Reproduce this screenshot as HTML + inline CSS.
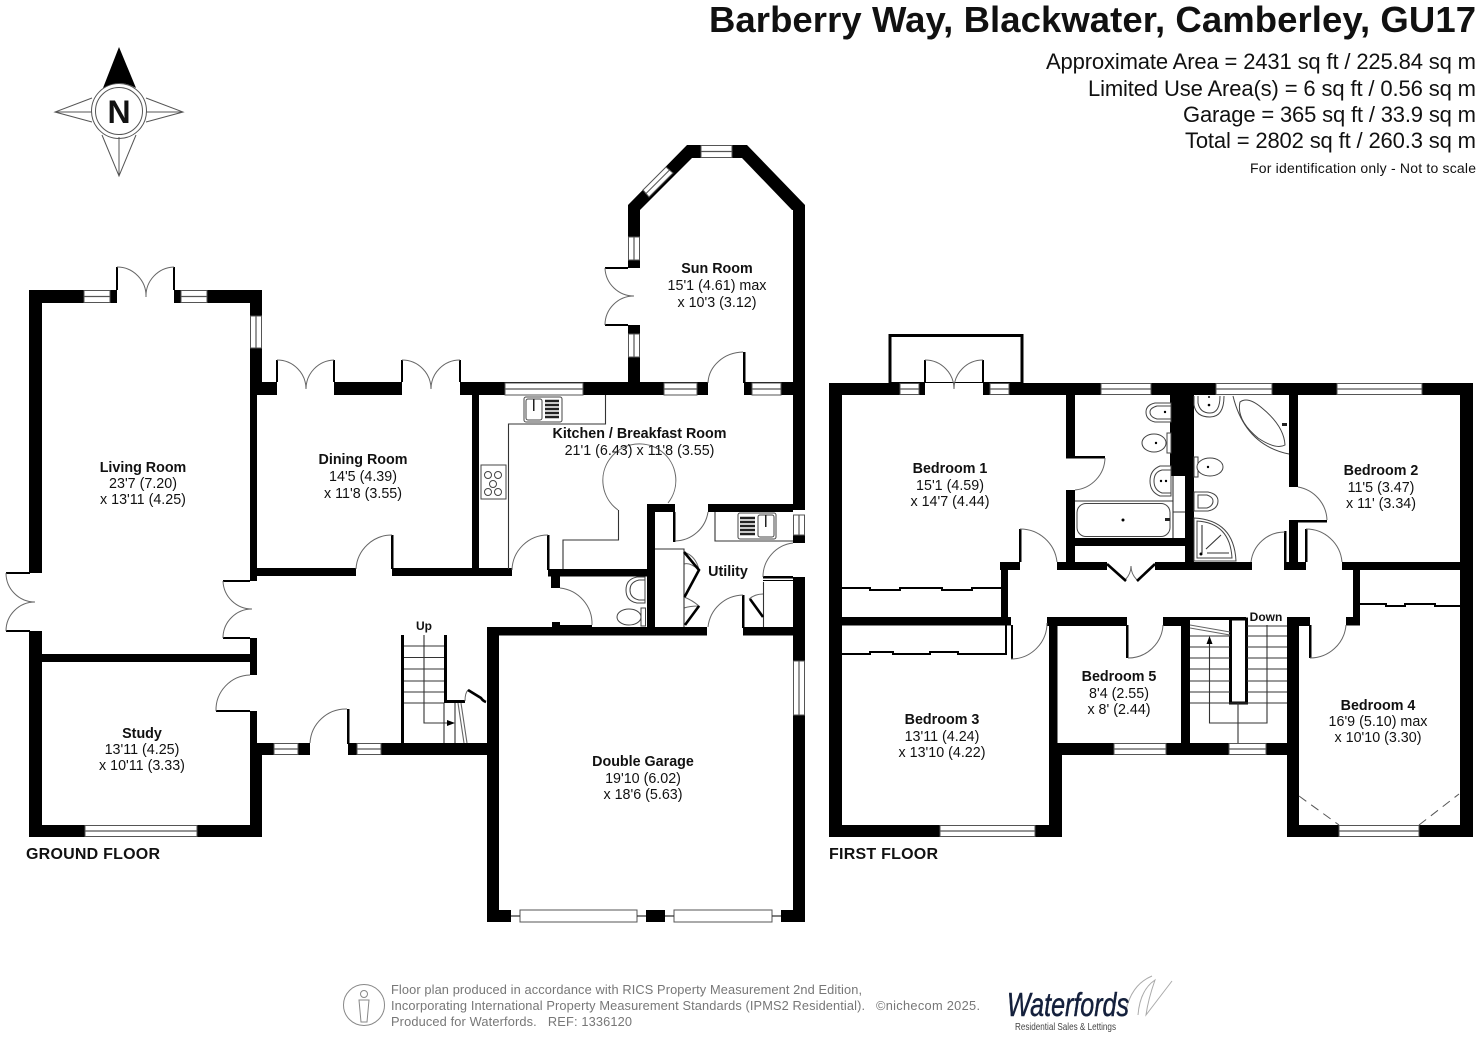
<!DOCTYPE html>
<html><head><meta charset="utf-8"><title>Barberry Way floor plan</title>
<style>
html,body{margin:0;padding:0;background:#fff;width:1480px;height:1056px;overflow:hidden}
svg{display:block}
text{font-family:"Liberation Sans",sans-serif;fill:#111}
.b{font-weight:bold}
.w rect{fill:#fff;stroke:#555;stroke-width:1}
.w path{stroke:#555;stroke-width:1.2;fill:none}
.a{fill:none;stroke:#666;stroke-width:1}
.l{fill:none;stroke:#333;stroke-width:1.1}
.t{fill:none;stroke:#000;stroke-width:2}
.k{fill:none;stroke:#000;stroke-width:2.6}
.f{fill:#fff;stroke:#444;stroke-width:1}
</style></head><body>
<svg width="1480" height="1056" viewBox="0 0 1480 1056" xmlns="http://www.w3.org/2000/svg">
<rect width="1480" height="1056" fill="#fff"/>

<!-- header -->
<text x="1476" y="32" text-anchor="end" class="b" font-size="36.5" textLength="767">Barberry Way, Blackwater, Camberley, GU17</text>
<g font-size="22" text-anchor="end">
<text x="1476" y="69" textLength="430">Approximate Area = 2431 sq ft / 225.84 sq m</text>
<text x="1476" y="96" textLength="388">Limited Use Area(s) = 6 sq ft / 0.56 sq m</text>
<text x="1476" y="122" textLength="293">Garage = 365 sq ft / 33.9 sq m</text>
<text x="1476" y="148" textLength="291">Total = 2802 sq ft / 260.3 sq m</text>
</g>
<text x="1476" y="173" text-anchor="end" font-size="14" textLength="226">For identification only - Not to scale</text>

<!-- compass -->
<g fill="none" stroke="#555" stroke-width="1">
<path d="M92 98L55 112L92 122M55 112H92M146 98L183 112L146 122M146 112H183M102 135L119 176L136 135M119 176V137"/>
<circle cx="119" cy="111" r="27.5"/><circle cx="119" cy="111" r="23.5"/>
</g>
<path d="M119 47L103 88Q119 78 136 88Z" fill="#000"/>
<text x="119" y="123" text-anchor="middle" class="b" font-size="32">N</text>

<!-- GROUND FLOOR walls -->
<g fill="#000">
<rect x="29" y="290" width="88" height="13"/><rect x="174" y="290" width="88" height="13"/>
<rect x="29" y="290" width="13" height="283"/><rect x="29" y="631" width="13" height="206"/>
<rect x="250" y="290" width="12" height="92"/><rect x="250" y="382" width="7" height="199"/>
<rect x="250" y="382" width="27" height="13"/>
<rect x="334" y="382" width="68" height="13"/>
<rect x="460" y="382" width="204" height="13"/>
<rect x="42" y="654" width="208" height="8"/>
<rect x="250" y="638" width="7" height="37"/>
<rect x="250" y="711" width="7" height="32"/>
<rect x="250" y="743" width="12" height="94"/>
<rect x="29" y="825" width="233" height="12"/>
<rect x="472" y="395" width="7" height="174"/>
<rect x="257" y="568" width="99" height="8"/>
<rect x="392" y="568" width="120" height="8"/>
<rect x="257" y="743" width="53" height="12"/>
<rect x="348" y="743" width="139" height="12"/>
<rect x="347" y="709" width="2.5" height="35"/>
<rect x="391" y="535" width="2.5" height="34"/>
<rect x="401" y="635" width="3" height="108"/>
<rect x="444" y="635" width="3" height="66"/>
<rect x="444" y="700" width="21" height="3"/>
<rect x="628" y="205" width="12" height="63"/>
<rect x="628" y="325" width="12" height="58"/>
<rect x="628" y="382" width="80" height="13"/>
<rect x="744" y="382" width="61" height="13"/>
<rect x="743" y="352" width="2.5" height="31"/>
<rect x="793" y="205" width="12" height="305"/>
<rect x="793" y="535" width="12" height="8"/>
<rect x="793" y="577" width="12" height="345"/>
<path d="M628 205L687 145H747L805 205V210H792L742 158H692L640 210Z"/>
<rect x="708" y="504" width="85" height="8"/>
<rect x="647" y="504" width="28" height="8"/>
<rect x="647" y="504" width="8" height="131"/>
<rect x="547" y="535" width="2.5" height="35"/>
<rect x="548" y="569" width="100" height="7.5"/>
<rect x="551" y="575" width="9" height="13"/>
<rect x="673" y="512" width="2.5" height="30"/>
<rect x="552" y="625" width="40" height="2"/>
<rect x="552" y="622" width="8" height="5"/>
<rect x="742" y="595" width="2.5" height="33"/>
<rect x="763" y="576" width="30" height="2.5"/>
<rect x="763" y="580" width="30" height="1"/>
<rect x="487" y="627" width="220" height="8.5"/>
<rect x="743" y="627" width="62" height="8.5"/>
<rect x="487" y="627" width="12" height="295"/>
<rect x="487" y="910" width="24" height="12"/>
<rect x="646" y="910" width="19" height="12"/>
<rect x="781" y="910" width="24" height="12"/>
</g>

<!-- windows ground -->
<g class="w">
<rect x="84" y="290.5" width="26" height="12"/><path d="M84 296.5H110"/>
<rect x="181" y="290.5" width="26" height="12"/><path d="M181 296.5H207"/>
<rect x="250.5" y="316" width="11" height="32"/><path d="M256 316V348"/>
<rect x="85" y="825.5" width="112" height="11"/><path d="M85 831H197"/>
<rect x="274" y="743.5" width="24" height="11"/><path d="M274 749H298"/>
<rect x="357" y="743.5" width="24" height="11"/><path d="M357 749H381"/>
<rect x="505" y="383" width="78" height="12"/><path d="M505 389H583"/>
<rect x="664" y="383" width="33" height="12"/><path d="M664 389H697"/>
<rect x="752" y="383" width="29" height="12"/><path d="M752 389H781"/>
<rect x="701" y="145.5" width="31" height="12"/><path d="M701 151.5H732"/>
<rect x="628.5" y="237" width="11" height="23"/><path d="M634 237V260"/>
<rect x="628.5" y="334" width="11" height="23"/><path d="M634 334V357"/>
<rect x="793.5" y="515" width="11" height="20"/><path d="M799 515V535"/>
<rect x="793.5" y="661" width="11" height="54"/><path d="M799 661V715"/>
<rect x="520" y="910" width="117" height="12"/>
<rect x="674" y="910" width="98" height="12"/>
</g>
<path d="M643 190L666 167L673 173L649 197Z" fill="#fff" stroke="#555"/>
<path d="M646 193.5L669.5 170" stroke="#555" fill="none"/>
<path d="M511 916H520M637 916H646M665 916H674M772 916H781" stroke="#333" stroke-width="1.2"/>

<!-- doors ground -->
<g class="t">
<path d="M117 290V267M174 290V267M277 382V360M334 382V360M402 382V360M460 382V360"/>
<path d="M6 573H30M6 631H30M223 581H250M223 638H250M216 711H250M605 268H628M605 325H628"/>
</g>
<g class="a">
<path d="M117 267A29 29 0 0 1 146 297A29 29 0 0 1 174 267"/>
<path d="M277 360A29 29 0 0 1 306 389A29 29 0 0 1 334 360"/>
<path d="M402 360A29 29 0 0 1 431 389A29 29 0 0 1 460 360"/>
<path d="M6 573A29 29 0 0 0 35 602A29 29 0 0 0 6 631"/>
<path d="M223 581A29 29 0 0 0 252 609A29 29 0 0 0 223 638"/>
<path d="M216 711A35 35 0 0 1 250 675"/>
<path d="M605 268A29 29 0 0 0 634 296A29 29 0 0 0 605 325"/>
<path d="M356 569A36 36 0 0 1 392 535"/>
<path d="M310 743A36 36 0 0 1 347 709"/>
<path d="M512 570A36 36 0 0 1 548 535"/>
<path d="M560 588A36 36 0 0 1 592 625"/>
<path d="M708 627A36 36 0 0 1 743 595"/>
<path d="M708 383A36 32 0 0 1 743 352"/>
<path d="M763 577A34 34 0 0 1 793 543"/>
<path d="M675 541A34 34 0 0 0 708 512"/>
<path d="M618 510A36.5 36.5 0 1 1 668 503"/>
<path d="M749 599Q755 594 763 594"/>
<path d="M465 701Q465 693 468 690"/>
<path d="M684 552Q696 556 699 570Q690 562 684 564M684 597Q692 600 699 606Q690 606 684 608"/>
</g>

<!-- kitchen lines -->
<g class="l">
<path d="M605.5 395V424H508.5V569"/>
<path d="M563 569V540H618.5V510"/>
<path d="M715 512V541H793"/>
<path d="M655 549H684V627"/>
<path d="M763.5 582V627"/>
</g>
<path class="k" d="M684 552L699 570L684.5 597M699 606L685 625M750 599L763 617M468 690L481 698Q483 701 486 702"/>

<!-- stairs ground -->
<g class="l">
<path d="M404 646H444M404 657.5H444M404 669H444M404 681H444M404 692H444M404 703H444"/>
<path d="M424 635V723H450"/>
<path d="M444 703V743M455 703V743"/>
<path d="M458 703L464 743M461 703L467 743" stroke="#666"/>
</g>
<path d="M447 720L455 723L447 726Z" fill="#000"/>

<!-- kitchen fixtures -->
<rect x="524" y="397" width="38" height="25" rx="2" class="f"/>
<rect x="526" y="399" width="16" height="21" rx="2" class="f"/>
<path d="M545 401H559M545 405H559M545 409H559M545 413H559M545 417H559" stroke="#222" stroke-width="2.4"/>
<rect x="533" y="399" width="1.5" height="12" fill="#222"/>
<rect x="481" y="465" width="25" height="34" class="f" stroke-width="1.5"/>
<g class="f"><circle cx="488" cy="475" r="3.5"/><circle cx="498" cy="475" r="3.5"/><circle cx="493" cy="484" r="3.5"/><circle cx="488" cy="492" r="3.5"/><circle cx="498" cy="492" r="3.5"/></g>
<rect x="738" y="513" width="38" height="26" rx="2" class="f"/>
<rect x="758" y="515" width="16" height="22" rx="2" class="f"/>
<path d="M740 518H755M740 522H755M740 526H755M740 530H755M740 534H755" stroke="#222" stroke-width="2.4"/>
<rect x="765" y="515" width="1.5" height="12" fill="#222"/>
<path d="M645 577H637Q626 579 626 590Q626 601 637 603H645Z" class="f"/>
<path d="M645 580H639Q630 582 630 590Q630 598 639 600H645Z" class="f"/>
<ellipse cx="629" cy="617" rx="12" ry="8" class="f"/>
<rect x="641" y="608" width="4.5" height="18" class="f"/>

<!-- FIRST FLOOR walls -->
<g fill="#000">
<rect x="829" y="383" width="96" height="12"/>
<rect x="983" y="383" width="490" height="12"/>
<rect x="829" y="383" width="13" height="454"/>
<rect x="1460" y="383" width="13" height="454"/>
<rect x="829" y="825" width="233" height="12"/>
<rect x="1049" y="743" width="13" height="94"/>
<rect x="1049" y="617" width="8.5" height="138"/>
<rect x="1057" y="743" width="242" height="12"/>
<rect x="1287" y="617" width="12" height="220"/>
<rect x="1287" y="825" width="186" height="12"/>
<rect x="1066" y="395" width="9" height="61"/>
<rect x="1066" y="490" width="9" height="72"/>
<rect x="1066" y="456" width="39" height="2.5"/>
<rect x="1066" y="538" width="119" height="8"/>
<rect x="1170" y="395" width="24" height="81"/>
<rect x="1185" y="476" width="9" height="94"/>
<rect x="1289" y="395" width="9" height="92"/>
<rect x="1289" y="520" width="9" height="42"/>
<rect x="1289" y="520" width="38" height="2.5"/>
<rect x="1057" y="562" width="50" height="8"/>
<rect x="1155" y="562" width="97" height="8"/>
<rect x="1284" y="562" width="22" height="8"/>
<rect x="1342" y="562" width="118" height="8"/>
<rect x="1000" y="562" width="20" height="8"/>
<rect x="1001" y="562" width="7" height="63"/>
<rect x="842" y="617" width="169" height="8.5"/>
<rect x="1047" y="617" width="80" height="9"/>
<rect x="1163" y="617" width="27" height="9"/>
<rect x="1181" y="617" width="9" height="126"/>
<rect x="1190" y="617" width="56" height="3"/>
<rect x="1287" y="617" width="23" height="9"/>
<rect x="1353" y="570" width="7" height="55"/>
<rect x="1346" y="617" width="14" height="8.5"/>
<rect x="1126" y="625" width="2.5" height="33"/>
<rect x="1309" y="625" width="2.5" height="33"/>
<rect x="1019" y="529" width="2.5" height="33"/>
<rect x="1284" y="531" width="2.5" height="32"/>
<rect x="1305" y="529" width="2.5" height="33"/>
<rect x="1011" y="625" width="2" height="34"/>
</g>
<rect x="1230.5" y="619" width="16" height="84" fill="#fff" stroke="#000" stroke-width="3"/>
<rect x="890" y="335.5" width="132" height="48" fill="none" stroke="#000" stroke-width="3"/>

<!-- windows first -->
<g class="w">
<rect x="900" y="383.5" width="19" height="11"/><path d="M900 389H919"/>
<rect x="990" y="383.5" width="19" height="11"/><path d="M990 389H1009"/>
<rect x="1101" y="383.5" width="50" height="11"/><path d="M1101 389H1151"/>
<rect x="1216" y="383.5" width="56" height="11"/><path d="M1216 389H1272"/>
<rect x="1337" y="383.5" width="85" height="11"/><path d="M1337 389H1422"/>
<rect x="940" y="825.5" width="95" height="11"/><path d="M940 831H1035"/>
<rect x="1114" y="743.5" width="52" height="11"/><path d="M1114 749H1166"/>
<rect x="1229" y="743.5" width="37" height="11"/><path d="M1229 749H1266"/>
<rect x="1339" y="825.5" width="80" height="11"/><path d="M1339 831H1419"/>
</g>

<!-- doors first -->
<path class="t" d="M925 383V360M983 383V360"/>
<rect x="925" y="383" width="58" height="12.5" fill="#fff"/>
<g class="a">
<path d="M925 360A29 29 0 0 1 954 389A29 29 0 0 1 983 360"/>
<path d="M1105 458A33 33 0 0 1 1075 490"/>
<path d="M1020 529A37 37 0 0 1 1057 562"/>
<path d="M1298 487A35 35 0 0 1 1327 520"/>
<path d="M1251 562A34 34 0 0 1 1285 532"/>
<path d="M1306 529A36 36 0 0 1 1342 562"/>
<path d="M1011 659A36 36 0 0 0 1047 623"/>
<path d="M1128 658A35 35 0 0 0 1163 625"/>
<path d="M1310 658A36 36 0 0 0 1346 625"/>
<path d="M1125 580Q1131 574 1131 566Q1131 574 1137 580"/>
</g>
<path class="k" d="M1107 564L1126 581M1155 564L1137 581"/>

<!-- wardrobes -->
<g fill="none" stroke="#000" stroke-width="2">
<path d="M842 588H870V590H900V588H942V590H972V588H1001"/>
<path d="M842 654H870V652H893V654H930V652H958V654H1006V625"/>
<path d="M1360 604H1386V606H1405V604H1435V606H1460"/>
</g>

<!-- first floor bathrooms -->
<path d="M1075 501H1173M1173 476V538M1173 512H1185" class="l"/>
<rect x="1077" y="503.5" width="93" height="33" rx="9" class="f"/>
<circle cx="1123" cy="520" r="1.5"/><rect x="1165" y="518" width="5" height="3" fill="#222"/>
<path d="M1171 403H1155Q1146 405 1146 412Q1146 420 1155 422H1171Z" class="f"/>
<path d="M1171 406H1157Q1150 408 1150 412Q1150 417 1157 419H1171Z" class="f"/><circle cx="1165" cy="412" r="1.2"/>
<ellipse cx="1154" cy="443" rx="12" ry="9" class="f"/><circle cx="1156" cy="443" r="1.2"/>
<rect x="1167" y="433" width="4" height="20" class="f"/>
<path d="M1171 466H1160Q1150 470 1150 481Q1150 492 1160 496H1171Z" class="f"/>
<path d="M1171 470H1162Q1154 472 1154 481Q1154 490 1162 493H1171Z" class="f"/>
<circle cx="1161" cy="481" r="1.2"/><circle cx="1166" cy="481" r="1.2"/>
<path d="M1194 396V405Q1196 417 1210 417Q1224 417 1224 396" class="f"/>
<path d="M1198 396V403Q1200 413 1210 413Q1220 413 1220 396" class="f"/>
<circle cx="1209" cy="405" r="1.3"/><circle cx="1209" cy="397" r="1"/>
<path d="M1233 396Q1245 445 1289 454" fill="none" stroke="#444"/>
<path d="M1240 402Q1248 396 1262 408Q1284 426 1285 445Q1276 450 1258 438Q1236 420 1240 402Z" class="f"/>
<rect x="1282" y="423" width="5" height="3" fill="#222"/>
<rect x="1194" y="457" width="4" height="20" class="f"/>
<ellipse cx="1210" cy="467" rx="13" ry="9" class="f"/><circle cx="1208" cy="467" r="1.2"/>
<path d="M1194 492H1208Q1218 494 1218 501Q1218 509 1208 511H1194Z" class="f"/>
<path d="M1198 495H1207Q1213 497 1213 501Q1213 506 1207 508H1198Z" class="f"/>
<path d="M1194 518Q1234 520 1236 561H1194Z" class="f" stroke-width="1.2"/>
<path d="M1197 521Q1230 523 1232 558H1197Z" class="f"/>
<path d="M1202 525V553M1207 553H1229M1206 549L1221 535" class="l"/>
<circle cx="1201" cy="554" r="1.5"/>

<!-- first floor stairs -->
<g class="l">
<path d="M1190 636H1230M1190 647H1230M1190 658H1230M1190 669H1230M1190 681H1230M1190 692H1230M1190 703H1287"/>
<path d="M1247 626H1287M1247 636H1287M1247 647H1287M1247 658H1287M1247 669H1287M1247 681H1287M1247 692H1287"/>
<path d="M1267 625V723H1209.5V640"/>
<path d="M1238 703V743"/>
<path d="M1190 625L1230 632M1190 628L1230 635" stroke="#666"/>
</g>
<path d="M1209.5 636L1206.5 644H1212.5Z" fill="#000"/>
<path d="M1299 796L1339 825M1419 825L1459 794" fill="none" stroke="#555" stroke-width="1" stroke-dasharray="9 6"/>

<!-- labels -->
<g font-size="14.3" text-anchor="middle">
<text x="143" y="472" class="b">Living Room</text><text x="143" y="488">23'7 (7.20)</text><text x="143" y="504">x 13'11 (4.25)</text>
<text x="363" y="464" class="b">Dining Room</text><text x="363" y="481">14'5 (4.39)</text><text x="363" y="498">x 11'8 (3.55)</text>
<text x="717" y="273" class="b">Sun Room</text><text x="717" y="290">15'1 (4.61) max</text><text x="717" y="307">x 10'3 (3.12)</text>
<text x="639.5" y="438" class="b">Kitchen / Breakfast Room</text><text x="639.5" y="455">21'1 (6.43) x 11'8 (3.55)</text>
<text x="728" y="576" class="b">Utility</text>
<text x="142" y="738" class="b">Study</text><text x="142" y="754">13'11 (4.25)</text><text x="142" y="770">x 10'11 (3.33)</text>
<text x="643" y="766" class="b">Double Garage</text><text x="643" y="783">19'10 (6.02)</text><text x="643" y="799">x 18'6 (5.63)</text>
<text x="950" y="473" class="b">Bedroom 1</text><text x="950" y="490">15'1 (4.59)</text><text x="950" y="506">x 14'7 (4.44)</text>
<text x="1381" y="475" class="b">Bedroom 2</text><text x="1381" y="492">11'5 (3.47)</text><text x="1381" y="508">x 11' (3.34)</text>
<text x="942" y="724" class="b">Bedroom 3</text><text x="942" y="741">13'11 (4.24)</text><text x="942" y="757">x 13'10 (4.22)</text>
<text x="1119" y="681" class="b">Bedroom 5</text><text x="1119" y="698">8'4 (2.55)</text><text x="1119" y="714">x 8' (2.44)</text>
<text x="1378" y="710" class="b">Bedroom 4</text><text x="1378" y="726">16'9 (5.10) max</text><text x="1378" y="742">x 10'10 (3.30)</text>
</g>
<text x="424" y="630" text-anchor="middle" class="b" font-size="12">Up</text>
<text x="1266" y="621" text-anchor="middle" class="b" font-size="12">Down</text>
<text x="26" y="859" class="b" font-size="16" textLength="134">GROUND FLOOR</text>
<text x="829" y="859" class="b" font-size="16" textLength="109">FIRST FLOOR</text>

<!-- footer -->
<circle cx="364" cy="1005" r="20.5" fill="none" stroke="#888" stroke-width="1"/>
<circle cx="364" cy="994" r="3.5" fill="none" stroke="#888"/>
<path d="M359 1000H369L368 1011L367 1022H361L360 1011Z" fill="none" stroke="#888"/>
<g font-size="12.8">
<text x="391" y="994" style="fill:#777" textLength="471">Floor plan produced in accordance with RICS Property Measurement 2nd Edition,</text>
<text x="391" y="1010" style="fill:#777" textLength="474">Incorporating International Property Measurement Standards (IPMS2 Residential).</text>
<text x="876" y="1010" style="fill:#777" textLength="104">©nichecom 2025.</text>
<text x="391" y="1026" style="fill:#777" xml:space="preserve" textLength="241">Produced for Waterfords.   REF: 1336120</text>
</g>
<path d="M1138 1015Q1140 990 1155 980Q1148 1000 1146 1015L1172 981M1125 1015Q1130 985 1152 976" fill="none" stroke="#aaa" stroke-width="1"/>
<text x="1007" y="1016" font-size="33" font-style="italic" style="fill:#14203c;stroke:#14203c;stroke-width:.5" textLength="122" lengthAdjust="spacingAndGlyphs">Waterfords</text>
<text x="1015" y="1030" font-size="10.5" style="fill:#444" textLength="101" lengthAdjust="spacingAndGlyphs">Residential Sales &amp; Lettings</text>
</svg>
</body></html>
